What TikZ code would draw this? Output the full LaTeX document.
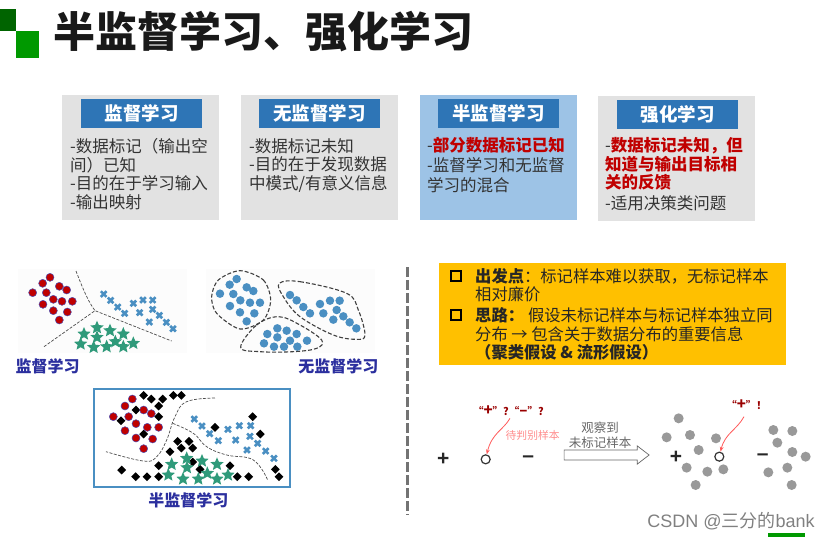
\documentclass[tikz,border=0pt]{standalone}
\usepackage{fontspec}
\setmainfont{Noto Sans CJK SC}
\newfontfamily\latinfont{Liberation Sans}
\usetikzlibrary{shapes.geometric,shapes.arrows,arrows.meta}
\definecolor{headblue}{HTML}{2E75B6}
\definecolor{panelgrey}{HTML}{E2E2E2}
\definecolor{panelblue}{HTML}{9DC3E6}
\definecolor{amberbox}{HTML}{FFC000}
\definecolor{labelnavy}{HTML}{2B2F9E}
\definecolor{redmark}{HTML}{C00000}
\definecolor{crossblue}{HTML}{4A8FC2}
\definecolor{stargreen}{HTML}{2F9A7A}
\definecolor{darksquare}{HTML}{006400}
\definecolor{lightsquare}{HTML}{009900}
\tikzset{
    panel/.style = {shape=rectangle, minimum width=157pt, minimum height=125pt, inner sep=0pt},
    headbox/.style = {shape=rectangle, fill=headblue, text=white, minimum width=121pt, minimum height=29pt,
        inner sep=0pt, font=\fontsize{18.5}{18.5}\selectfont\bfseries},
    bodytext/.style = {align=left, anchor=north west, inner sep=0pt, text=black!80,
        font=\fontsize{16.5}{18.8}\selectfont},
    capt/.style = {text=labelnavy, inner sep=0pt, font=\fontsize{16}{16}\selectfont\bfseries},
    reddot/.style = {circle, fill=red!75!black, draw=blue!40!gray, line width=0.5pt, minimum size=8pt, inner sep=0pt},
    bluedot/.style = {circle, fill=crossblue, minimum size=8.5pt, inner sep=0pt},
    blackdia/.style = {diamond, fill=black, minimum size=9pt, inner sep=0pt},
    greendot/.style = {star, star points=5, star point ratio=2.2, fill=stargreen, minimum size=14pt, inner sep=0pt},
    greydot/.style = {circle, fill=black!40, minimum size=10pt, inner sep=0pt},
    cut/.style = {dash pattern=on 3pt off 1.5pt, black!70, line width=0.7pt},
    blob/.style = {dash pattern=on 4pt off 2pt, black!75, line width=1.1pt},
    note/.style = {text=red!60!black, inner sep=0pt, font=\fontsize{10.5}{10.5}\selectfont\bfseries},
    sign/.style = {text=black!85, inner sep=0pt, font=\latinfont\fontsize{21}{21}\selectfont\bfseries},
    ringmark/.style = {circle, draw=black!80, line width=1.2pt, minimum size=9pt, inner sep=0pt},
    hint/.style = {-{Stealth[length=5pt]}, red!65, line width=0.8pt},
    tick/.style = {shape=rectangle, draw=black, line width=2pt, minimum size=10pt, inner sep=0pt},
    goal/.style = {anchor=west, inner sep=0pt, text=black!85, font=\fontsize{16.3}{19}\selectfont}
}
\newcommand{\crossmark}[3]{%
    \draw[crossblue, line width=2.6pt] (#1,#2) ++(-8.5,-8.5) -- ++(17,17) ++(-17,0) -- ++(17,-17);
    \coordinate (#3) at (#1,#2);}
\newcommand{\bigsign}[1]{{\fontsize{15}{15}\selectfont #1}}
\begin{document}
\begin{tikzpicture}[x=1pt,y=-1pt]
    \useasboundingbox (0,0) rectangle (831,539);
    % header
    \fill[darksquare] (0,9) rectangle (16,31);
    \fill[lightsquare] (16,31) rectangle (39,58);
    \node[inner sep=0pt, anchor=west, font=\fontsize{42}{42}\selectfont\bfseries, text=black!90] (title) at (53,32)
        {半监督学习、强化学习};

    % four panels
    \node[panel, fill=panelgrey, anchor=north west] (supbox) at (62,95) {};
    \node[panel, fill=panelgrey, anchor=north west] (unsbox) at (241,95) {};
    \node[panel, fill=panelblue, anchor=north west] (semibox) at (420,95) {};
    \node[panel, fill=panelgrey, anchor=north west] (rlbox) at (598,96) {};
    \node[headbox, anchor=north west] (suphead) at (81,99) {监督学习};
    \node[headbox, anchor=north west] (unshead) at (259,99) {无监督学习};
    \node[headbox, anchor=north west] (semihead) at (438,99) {半监督学习};
    \node[headbox, anchor=north west] (rlhead) at (617,100) {强化学习};
    \node[bodytext] (suptext) at (70,138)
        {-数据标记（输出空\\间）已知\\-目的在于学习输入\\-输出映射};
    \node[bodytext] (unstext) at (249,138)
        {-数据标记未知\\-目的在于发现数据\\中模式/有意义信息};
    \node[bodytext] (semitext) at (427,137)
        {-{\bfseries\color{redmark}部分数据标记已知}\\[1pt]-监督学习和无监督\\[1pt]学习的混合};
    \node[bodytext] (rltext) at (605,137)
        {-{\bfseries\color{redmark}数据标记未知，但}\\{\bfseries\color{redmark}知道与输出目标相}\\{\bfseries\color{redmark}关的反馈}\\[2pt]-适用决策类问题};

    % divider
    \coordinate (divtop) at (407,267);
    \coordinate (divbot) at (407,515);
    \draw[black!55, line width=3pt, dash pattern=on 10pt off 3pt] (divtop) -- (divbot);

    % supervised
    \begin{scope}[shift={(0,260)},scale=1/3]
        \fill[black!1] (55,28) rectangle (560,278);
        \foreach \x/\y [count=\i] in {150/52,128/70,178/79,200/90,98/98,139/98,160/118,186/124,217/124,129/133,160/152,202/156,178/180}
            \node[reddot] (supred\i) at (\x,\y) {};
        \foreach \x/\y [count=\i] in {311/102,332/121,353/141,374/160,400/130,429/120,458/120,458/148,419/158,478/166,499/187,519/206,448/186}
            \crossmark{\x}{\y}{supx\i};
        \foreach \x/\y [count=\i] in {291/203,252/222,330/212,370/222,291/232,242/252,281/262,320/260,346/245,370/260,400/250}
            \node[greendot] (supstar\i) at (\x,\y) {};
        \coordinate (hub) at (285,152);
        \coordinate (cuta) at (228,33);
        \coordinate (cutb) at (132,260);
        \coordinate (cutc) at (515,243);
        \draw[cut] (cuta) .. controls (250,90) and (265,125) .. (hub);
        \draw[cut] (cutb) -- (hub) -- (cutc);
        \node[capt] (supcapt) at (143,320) {监督学习};

        % unsupervised
        \fill[black!1] (618,28) rectangle (1125,278);
        \foreach \x/\y [count=\i] in {710/57,689/74,740/82,760/93,660/101,700/102,721/121,750/128,780/128,690/138,720/157,763/160,740/184,
                870/105,890/121,910/141,930/160,960/132,990/122,1019/122,1010/150,970/160,1030/169,1049/187,1069/205,1000/179,
                832/205,802/222,860/212,890/222,832/232,792/250,822/260,852/260,870/242,892/260,921/242}
            \node[bluedot] (unsdot\i) at (\x,\y) {};
        \draw[blob] plot[smooth cycle] coordinates {(720,32) (790,60) (812,120) (790,180) (720,207) (650,160) (635,110) (655,60)};
        \draw[blob] plot[smooth cycle, tension=0.6] coordinates {(838,70) (900,65) (1040,100) (1075,150) (1095,225) (1070,238) (1000,225) (900,170) (850,110)};
        \draw[blob] plot[smooth cycle, tension=0.6] coordinates {(722,262) (770,195) (835,170) (900,195) (965,240) (950,265) (880,275) (780,275)};
        \node[capt] (unscapt) at (1015,320) {无监督学习};

        % semi-supervised
        \node[shape=rectangle, draw=crossblue, line width=2pt, minimum width=196pt, minimum height=98pt, inner sep=0pt] (semiframe) at (576,533) {};
        \foreach \x/\y [count=\i] in {431/406,454/417,488/417,520/406,544/406,476/438,408/450,476/470,363/482,431/522,533/544,567/544,544/564,510/575,578/564,578/606,476/617,600/628,690/617,365/630,407/650,441/650,476/650,712/650,746/650,645/502,758/470,781/522,826/628,837/650}
            \node[blackdia] (semidia\i) at (\x,\y) {};
        \foreach \x/\y [count=\i] in {397/417,375/438,431/450,454/461,340/470,386/470,408/491,442/502,476/502,375/512,408/534,458/537,431/566}
            \node[reddot] (semired\i) at (\x,\y) {};
        \foreach \x/\y [count=\i] in {583/477,606/498,629/521,655/542,684/508,718/497,752/497,750/529,707/540,773/550,797/573,822/595,741/570}
            \crossmark{\x}{\y}{semix\i};
        \foreach \x/\y [count=\i] in {560/595,515/613,606/603,651/613,561/623,505/645,549/657,595/657,622/640,651/657,684/645}
            \node[greendot] (semistar\i) at (\x,\y) {};
        \draw[cut] plot[smooth, tension=0.7] coordinates {(645,414) (560,425) (525,470) (500,540) (470,590) (430,603) (318,575)};
        \draw[cut] plot[smooth, tension=0.7] coordinates {(518,490) (580,520) (620,560) (680,585) (760,600) (803,660)};
        \node[capt] (semicapt) at (565,722) {半监督学习};
    \end{scope}

    % amber box
    \node[shape=rectangle, fill=amberbox, anchor=north west, minimum width=347pt, minimum height=102pt, inner sep=0pt] (goalbox) at (439,263) {};
    \node[tick] (ticka) at (456,276) {};
    \node[tick] (tickb) at (456,315) {};
    \node[goal] (goala) at (475,276) {{\bfseries 出发点}：标记样本难以获取，无标记样本};
    \node[goal] (goalb) at (475,294) {相对廉价};
    \node[goal] (goalc) at (475,315) {{\bfseries 思路：}\hspace{4pt}假设未标记样本与标记样本独立同};
    \node[goal] (goald) at (475,334) {分布 → 包含关于数据分布的重要信息};
    \node[goal] (goale) at (475,352) {{\bfseries （聚类假设 \& 流形假设）}};

    % before and after
    \begin{scope}[shift={(420,390)},scale=1/3]
        \node[sign] (plusa) at (70,208) {+};
        \node[ringmark] (ringa) at (197,208) {};
        \node[sign] (minusa) at (325,208) {–};
        \node[note] (aska) at (265,62) {“\bigsign{+}”?“\bigsign{–}”?};
        \coordinate (hinta) at (270,85);
        \draw[hint] (hinta) .. controls (250,120) and (215,130) .. (ringa);
        \node[note, text=red!45, font=\fontsize{10.8}{10.8}\selectfont] (waiting) at (338,135) {待判别样本};
        \node[shape=single arrow, draw=black!60, line width=0.7pt, fill=white, minimum width=17pt, single arrow head extend=4pt,
            single arrow tip angle=75, minimum height=85pt, inner xsep=0pt, inner ysep=4.7pt] (bigarrow) at (550,195) {};
        \node[inner sep=0pt, align=center, text=black!60, font=\fontsize{12.5}{14.5}\selectfont] (seen) at (540,136) {观察到\\未标记样本};
        \foreach \x/\y [count=\i] in {776/85,740/142,810/135,888/145,836/180,800/233,862/245,910/238,827/285,1060/120,1117/123,1072/158,1117/186,1157/200,1102/233,1045/247,1115/285}
            \node[greydot] (grey\i) at (\x,\y) {};
        \node[sign] (plusb) at (768,203) {+};
        \node[ringmark] (ringb) at (898,200) {};
        \node[sign] (minusb) at (1028,200) {–};
        \node[note] (askb) at (980,45) {“\bigsign{+}”！};
        \coordinate (hintb) at (972,80);
        \draw[hint] (hintb) .. controls (950,120) and (915,130) .. (ringb);
    \end{scope}

    % watermark
    \node[inner sep=0pt, text=black!50, font=\fontsize{18}{18}\selectfont] (stamp) at (731,521)
        {{\latinfont CSDN @}三分的{\latinfont bank}};
    \fill[lightsquare] (768,533) rectangle (805,537);
\end{tikzpicture}
\end{document}
